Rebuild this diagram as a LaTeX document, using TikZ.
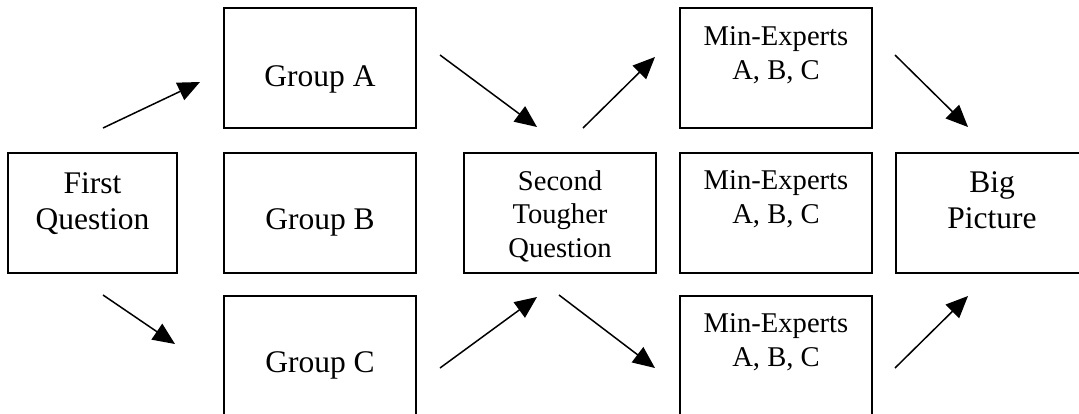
\documentclass[tikz,border=0pt]{standalone}
\usepackage{fontspec}
\setmainfont{Liberation Serif}
\usetikzlibrary{arrows.meta}

\begin{document}
\begin{tikzpicture}[x=1pt,y=-1pt,
  box/.style={draw, line width=1.6pt, inner sep=0pt, minimum height=120pt},
  wide/.style={box, minimum width=192pt},
  big/.style={align=center, inner sep=0pt, anchor=base, font=\fontsize{31.5}{36}\selectfont},
  small/.style={align=center, inner sep=0pt, anchor=base, font=\fontsize{28.6}{33.5}\selectfont},
  flow/.style={line width=1.5pt, -{Triangle[length=22pt,width=19pt]}}]

\useasboundingbox (0,0) rectangle (1079,413);
\clip (0,0) rectangle (1079,413);
\fill[white] (0,0) rectangle (1079,413);

% boxes
\node[box, minimum width=169pt] (fq) at (92.5,213) {};
\node[wide] (ga) at (320,68) {};
\node[wide] (gb) at (320,213) {};
\node[wide] (gc) at (320,356) {};
\node[wide] (sq) at (560,213) {};
\node[wide] (mt) at (776,68) {};
\node[wide] (mm) at (776,213) {};
\node[wide] (mb) at (776,356) {};
\node[wide] (bp) at (992,213) {};

% box texts, placed by the baseline of their last line
\node[big] (fqt) at (92.5,229) {First\\Question};
\node[big] (gat) at (320,86) {Group A};
\node[big] (gbt) at (320,229) {Group B};
\node[big] (gct) at (320,372) {Group C};
\node[small] (sqt) at (560,257) {Second\\Tougher\\Question};
\node[small] (mtt) at (776,79) {Min-Experts\\A, B, C};
\node[small] (mmt) at (776,223) {Min-Experts\\A, B, C};
\node[small] (mbt) at (776,366) {Min-Experts\\A, B, C};
\node[big] (bpt) at (992,228) {Big\\Picture};

% arrow end points
\coordinate (a1s) at (103,128); \coordinate (a1e) at (200,82);
\coordinate (a2s) at (103,295); \coordinate (a2e) at (175,344);
\coordinate (a3s) at (440,55);  \coordinate (a3e) at (537,127);
\coordinate (a4s) at (583,128); \coordinate (a4e) at (655,57);
\coordinate (a5s) at (895,55);  \coordinate (a5e) at (968,127);
\coordinate (a6s) at (440,368); \coordinate (a6e) at (537,297);
\coordinate (a7s) at (559,295); \coordinate (a7e) at (655,368);
\coordinate (a8s) at (895,368); \coordinate (a8e) at (968,296);

\draw[flow] (a1s) -- (a1e);
\draw[flow] (a2s) -- (a2e);
\draw[flow] (a3s) -- (a3e);
\draw[flow] (a4s) -- (a4e);
\draw[flow] (a5s) -- (a5e);
\draw[flow] (a6s) -- (a6e);
\draw[flow] (a7s) -- (a7e);
\draw[flow] (a8s) -- (a8e);
\end{tikzpicture}
\end{document}
